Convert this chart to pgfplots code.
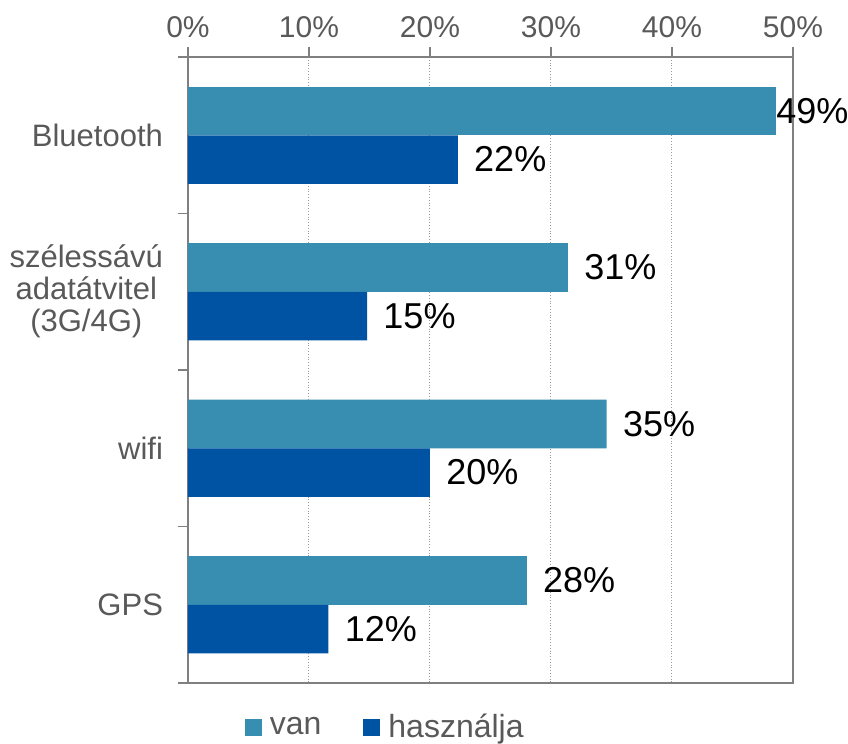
\documentclass[border=0pt]{standalone}
\usepackage{pgfplots}
\pgfplotsset{compat=1.18}
\usepackage{fontspec}
\setmainfont{Liberation Sans}
\definecolor{van}{RGB}{55,142,176}
\definecolor{hasz}{RGB}{0,82,163}
\definecolor{axgray}{RGB}{128,128,128}
\definecolor{txtgray}{RGB}{89,89,89}
\begin{document}
\begin{tikzpicture}[x=1pt,y=1pt]
\useasboundingbox (0,0) rectangle (424,372);
\begin{axis}[
  at={(94pt,30.5pt)}, anchor=south west,
  scale only axis, width=302.5pt, height=313pt,
  xmin=0, xmax=50, ymin=-0.5, ymax=3.5, y dir=reverse,
  axis line style={axgray, line width=1pt},
  tick style={axgray, line width=0.8pt},
  tick align=outside, major tick length=5pt,
  xtick={0,10,20,30,40,50},
  xtick pos=right, xticklabel pos=right,
  xticklabel={\pgfmathprintnumber{\tick}\%},
  xticklabel style={font=\fontsize{15}{17}\selectfont, text=txtgray, yshift=1pt},
  /pgf/number format/assume math mode=true,
  xmajorgrids, major grid style={densely dotted, axgray!80, line width=0.5pt},
  ytick={-0.5,0.5,1.5,2.5,3.5}, yticklabels={},
  ytick pos=left,
  extra y ticks={0,1,2,3},
  extra y tick labels={Bluetooth,{szélessávú\\adatátvitel\\(3G/4G)},wifi,GPS},
  extra y tick style={major tick length=0pt, ymajorgrids=false,
    yticklabel style={font=\fontsize{15.5}{16}\selectfont, text=txtgray, align=center, xshift=-9pt}},
  xbar, bar shift=0pt, bar width=0.31,
  point meta=explicit symbolic,
  nodes near coords={\pgfplotspointmeta\%},
  every node near coord/.append style={font=\fontsize{18}{20}\selectfont, text=black, anchor=west, inner sep=0pt, xshift=8pt},
  legend style={at={(0.326,-0.071)}, anchor=center, draw=none, fill=none,
    legend columns=2, font=\fontsize{16}{18}\selectfont,
    /tikz/every even column/.append style={column sep=20pt},
    nodes={text=txtgray, inner sep=1pt}},
  legend image code/.code={\fill[#1] (0pt,-4.25pt) rectangle (8.5pt,4.25pt);},
]
\addplot[fill=van, draw=none] coordinates {(31.4,0.845) [31] (34.6,1.845) [35] (28.0,2.845) [28]};
\addlegendentry{\hspace{3pt}van}
\addplot[fill=hasz, draw=none] coordinates {(22.3,0.155) [22] (14.8,1.155) [15] (20.0,2.155) [20] (11.6,3.155) [12]};
\addlegendentry{\hspace{3pt}használja}
\addplot[fill=van, draw=none, forget plot, every node near coord/.append style={xshift=-8pt}] coordinates {(48.6,-0.155) [49]};
\end{axis}
\end{tikzpicture}
\end{document}
